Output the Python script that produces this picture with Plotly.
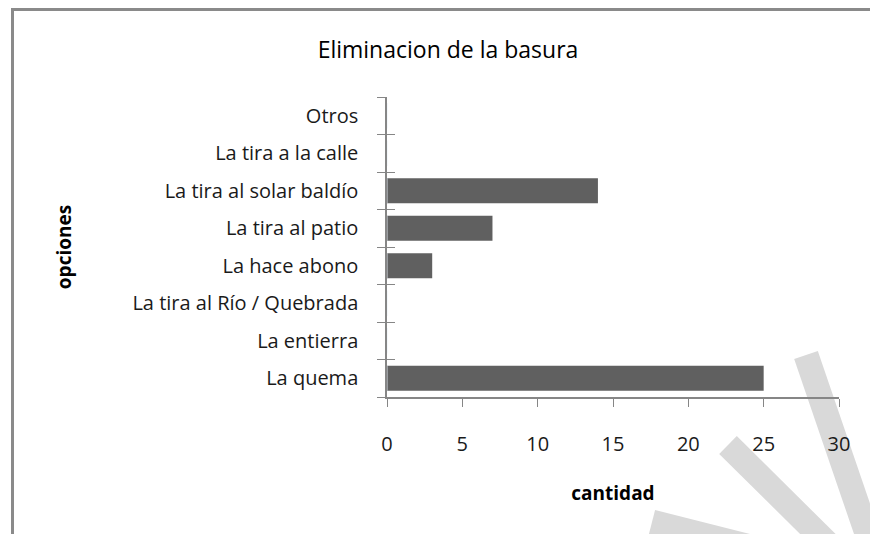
import plotly.graph_objects as go

# datos (de abajo hacia arriba)
opciones = [
    'La quema',
    'La entierra',
    'La tira al Río / Quebrada',
    'La hace abono',
    'La tira al patio',
    'La tira al solar baldío',
    'La tira a la calle',
    'Otros',
]
cantidad = [25, 0, 0, 3, 7, 14, 0, 0]
x_ticks = [0, 5, 10, 15, 20, 25, 30]

W, H = 870, 534
L, R, T, B = 387, 31, 97, 137
FONT = 'Open Sans, Noto Sans, sans-serif'
GRIS = '#868686'


def px(x):
    # pixel -> paper (horizontal)
    return (x - L) / (W - L - R)


def py(y):
    # pixel -> paper (vertical)
    return (H - B - y) / (H - T - B)


fig = go.Figure()

fig.add_trace(go.Bar(
    x=cantidad,
    y=opciones,
    orientation='h',
    marker=dict(color='#606060', line=dict(width=0)),
    showlegend=False,
))

# traza invisible para las marcas interiores del eje de categorias
fig.add_trace(go.Bar(
    x=[0] * len(opciones),
    y=opciones,
    orientation='h',
    yaxis='y2',
    marker=dict(color='rgba(0,0,0,0)'),
    showlegend=False,
    hoverinfo='skip',
))

# marca de agua gris clara (esquina inferior derecha)
watermark = [
    ((806, 355), (872, 548)),
    ((728, 445), (832, 548)),
    ((652, 522), (770, 552)),
]
shapes = []
for (x0, y0), (x1, y1) in watermark:
    shapes.append(dict(
        type='line', xref='paper', yref='paper',
        x0=px(x0), y0=py(y0), x1=px(x1), y1=py(y1),
        line=dict(color='#d9d9d9', width=25),
        layer='below',
    ))

# borde del area del grafico
shapes.append(dict(
    type='rect', xref='paper', yref='paper',
    x0=px(12.5), y0=py(9.5), x1=px(900), y1=py(560),
    line=dict(color='#8a8a8a', width=3),
    layer='below',
))

fig.update_layout(
    width=W,
    height=H,
    margin=dict(l=L, r=R, t=T, b=B),
    paper_bgcolor='white',
    plot_bgcolor='rgba(0,0,0,0)',
    bargap=0.33,
    barmode='overlay',
    font=dict(family=FONT, size=20, color='#1a1a1a'),
    title=dict(
        text='Eliminacion de la basura',
        xref='container', x=448 / W, xanchor='center',
        yref='container', y=1 - 50 / H, yanchor='middle',
        font=dict(family=FONT, size=23, color='black'),
    ),
    xaxis=dict(
        range=[0, 30],
        tickvals=x_ticks,
        ticks='outside',
        ticklen=8,
        tickcolor=GRIS,
        showline=True,
        linecolor=GRIS,
        linewidth=1.5,
        showgrid=False,
        zeroline=False,
        ticklabelstandoff=20,
        tickfont=dict(size=20, color='#1a1a1a'),
        title=dict(text='<b>cantidad</b>', font=dict(size=19, color='black'), standoff=31),
    ),
    yaxis=dict(
        type='category',
        categoryorder='array',
        categoryarray=opciones,
        range=[-0.5, len(opciones) - 0.5],
        tickson='boundaries',
        ticks='outside',
        ticklen=8,
        tickcolor=GRIS,
        showline=True,
        linecolor=GRIS,
        linewidth=1.5,
        showgrid=False,
        ticklabelstandoff=23,
        tickfont=dict(size=20, color='#1a1a1a'),
        title=dict(text='<b>opciones</b>', font=dict(size=19, color='black'), standoff=56),
    ),
    yaxis2=dict(
        type='category',
        categoryorder='array',
        categoryarray=opciones,
        range=[-0.5, len(opciones) - 0.5],
        overlaying='y',
        side='left',
        tickson='boundaries',
        ticks='inside',
        ticklen=8,
        tickcolor=GRIS,
        showticklabels=False,
        showline=False,
        showgrid=False,
    ),
    shapes=shapes,
)

# sin margen del body para que el grafico ocupe la ventana exacta
fig.write_html(
    'out.html',
    config={'displayModeBar': False},
    post_script="document.body.style.margin='0';",
)
